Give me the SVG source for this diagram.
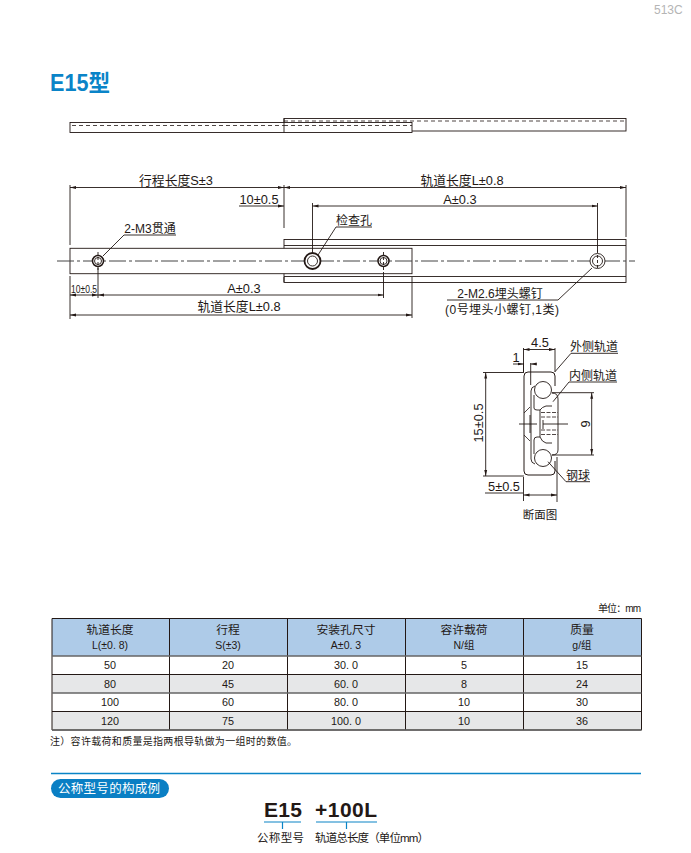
<svg xmlns="http://www.w3.org/2000/svg" width="691" height="853" viewBox="0 0 691 853">
<style>
text{font-family:"Liberation Sans","Noto Sans CJK SC",sans-serif;fill:#231815}
.d{font-size:12.800px;text-anchor:middle}
.k{font-size:12px;text-anchor:middle}
.t{font-size:10.800px;text-anchor:middle}
.h{font-size:11.800px;text-anchor:middle}
.u{font-size:10.500px;text-anchor:middle}
.l{fill:none;stroke:#231815;stroke-width:.9}
.f{fill:#fff;stroke:#231815;stroke-width:.9}
.dash{fill:none;stroke:#231815;stroke-width:.8;stroke-dasharray:4 3}
.c{fill:none;stroke:#444;stroke-width:1;stroke-dasharray:17 3 3 3}
.b{stroke:#231815;stroke-width:1;fill:none}
</style>
<defs>
<marker id="a" markerWidth="6" markerHeight="4" refX="6" refY="2" orient="auto-start-reverse" markerUnits="userSpaceOnUse"><path d="M0 .6L6 2L0 3.4Z" fill="#231815"/></marker>
</defs>
<rect width="691" height="853" fill="#fff"/>
<text x="654" y="14" style="font-size:12px;fill:#b5b5b5">513C</text>
<text x="50" y="91" style="font-size:23px;font-weight:bold;fill:#0a84c8" textLength="60" lengthAdjust="spacingAndGlyphs">E15型</text>

<g id="side-view">
<rect class="f" x="284" y="118.500" width="342" height="12.500"/>
<rect class="f" x="70" y="122.500" width="342" height="10"/>
<path class="dash" d="M72 125.500H284M284 121H626M284 125.500H412"/>
<path class="l" d="M284 118.500V132.500"/>
</g>

<g id="plan-view">
<rect class="f" x="284" y="239.500" width="342" height="43"/>
<path class="l" d="M284 245.500H626M284 276.500H626"/>
<rect class="f" x="70" y="248.300" width="342" height="25.400"/>
<path class="c" d="M57 261H635"/>
</g>

<g id="holes">
<g id="hole-1"><circle class="f" cx="98" cy="261" r="5.500" style="stroke-width:1.500"/><circle class="l" cx="98" cy="261" r="3.500"/><path class="l" d="M98 252V270" stroke-dasharray="3 2"/></g>
<g id="hole-2"><circle class="f" cx="312.500" cy="261" r="8" style="stroke-width:1.800"/><circle class="l" cx="312.500" cy="261" r="5"/></g>
<g id="hole-3"><circle class="f" cx="383.500" cy="261" r="5.500" style="stroke-width:1.500"/><circle class="l" cx="383.500" cy="261" r="3.500"/><path class="l" d="M383.500 252V270" stroke-dasharray="3 2"/></g>
<g id="hole-4"><circle class="f" cx="597.500" cy="261" r="7.500"/><circle class="l" cx="597.500" cy="261" r="5"/><path class="l" d="M597.500 250V270" stroke-dasharray="3 2"/></g>
</g>

<g id="connectors">
<path class="l" d="M70 185V245M284 185V228M626 185V237M312.500 203V254M597.500 203V252M70 276V319M98 268V298M383.500 272V298M412 277V318M284 277V282"/>
<path class="l" marker-start="url(#a)" marker-end="url(#a)" d="M70 187.500H284"/>
<path class="l" marker-start="url(#a)" marker-end="url(#a)" d="M284 187.500H626"/>
<path class="l" marker-end="url(#a)" d="M239 206H284"/>
<path class="l" marker-start="url(#a)" marker-end="url(#a)" d="M312.500 206H597.500"/>
<path class="l" marker-start="url(#a)" marker-end="url(#a)" d="M70 295H98"/>
<path class="l" marker-start="url(#a)" marker-end="url(#a)" d="M98 295H383.500"/>
<path class="l" marker-start="url(#a)" marker-end="url(#a)" d="M70 315H412"/>
<path class="l" d="M176 235H124L103 256M372 227H336L318 255M447 300H558L592 268"/>
</g>

<g id="plan-labels">
<text class="d" x="176" y="185">行程长度S±3</text>
<text class="d" x="462" y="185">轨道长度L±0.8</text>
<text class="d" x="259" y="204">10±0.5</text>
<text class="d" x="460" y="204">A±0.3</text>
<text class="k" x="150" y="233">2-M3贯通</text>
<text class="k" x="354" y="225">检查孔</text>
<text x="71" y="293" style="font-size:11px" textLength="26" lengthAdjust="spacingAndGlyphs">10±0.5</text>
<text class="d" x="244" y="293">A±0.3</text>
<text class="d" x="239" y="311">轨道长度L±0.8</text>
<text class="k" x="500" y="298">2-M2.6埋头螺钉</text>
<text class="k" x="502" y="314" textLength="114">(0号埋头小螺钉,1类)</text>
</g>

<g id="section">
<path class="l" style="stroke-width:1" d="M555 386V376Q555 372 551 372H528Q524 372 524 376V471Q524 475 528 475H551Q555 475 555 471V461"/>
<path class="l" d="M535 386Q531 387 531 391V459Q531 463 535 464"/>
<path class="l" d="M534 395V408Q534 410 537 410H540V437H537Q534 437 534 440V454"/>
<path class="l" d="M552 393Q558 393 558 399V450Q558 455 552 455M540 410Q542 407 546 406H552M540 437Q542 442 546 443H552"/>
<path class="l" style="stroke-width:.8" d="M524 413L530 407M524 435L530 441"/>
<circle class="f" cx="543" cy="390" r="8.500"/>
<circle class="f" cx="543" cy="458" r="8.500"/>
<path class="dash" style="stroke-dasharray:4 1.500" d="M541 412.500H558M541 417H558M541 430H558M541 434.500H558"/>
<path class="l" d="M519 424H537M543 424H568M530 415V433M543 420V429"/>
<path class="l" d="M483 372.500H524M483 476H524" stroke-width=".7"/>
<path class="l" marker-start="url(#a)" marker-end="url(#a)" d="M485.700 372.500V476"/>
<path class="l" d="M523.500 348V372M555 348V372"/>
<path class="l" marker-start="url(#a)" marker-end="url(#a)" d="M523.500 349.500H555"/>
<path class="l" marker-end="url(#a)" d="M513 364H523.500"/>
<path class="l" marker-start="url(#a)" d="M530.700 364H537"/>
<path class="l" d="M530.700 363V385M523.500 363V372"/>
<path class="l" d="M552 392.700H594M552 455H594"/>
<path class="l" marker-start="url(#a)" marker-end="url(#a)" d="M591.700 392.700V455"/>
<path class="l" d="M523.500 477V501M557 457V502M485 493H523"/>
<path class="l" marker-start="url(#a)" marker-end="url(#a)" d="M523.500 495H557"/>
<path class="l" d="M555 371.700L571 353.300H618M553 401.700L569 382H617M548 461.700L566 481.700H590"/>
<text class="d" x="540" y="347">4.5</text>
<text class="d" x="516" y="362">1</text>
<text class="k" x="594" y="351">外侧轨道</text>
<text class="k" x="593" y="380">内侧轨道</text>
<text class="d" transform="translate(483 423) rotate(-90)">15±0.5</text>
<text class="d" transform="translate(590 424) rotate(-90)">9</text>
<text class="k" x="578" y="480">钢球</text>
<text class="d" x="504" y="491">5±0.5</text>
<text x="540" y="519" style="font-size:11.500px;text-anchor:middle">断面图</text>
</g>

<g id="table">
<text x="598" y="612" style="font-size:10px" textLength="43">单位：mm</text>
<rect x="52" y="618.500" width="589.500" height="37.500" fill="#aecbe8"/>
<rect x="52" y="674.500" width="589.500" height="18.500" fill="#e6e7e8"/>
<rect x="52" y="711.500" width="589.500" height="18.500" fill="#e6e7e8"/>
<path class="b" d="M52 618.500H641.500V730H52ZM169.500 618.500V730M287.500 618.500V730M405.500 618.500V730M523.500 618.500V730M52 674.500H641.500M52 711.500H641.500"/>
<path stroke="#666" stroke-width="1.500" fill="none" d="M52 656H641.500M52 693H641.500M52 730H641.500"/>
<text class="h" x="110" y="634">轨道长度</text><text class="u" x="110" y="649">L(±0. 8)</text>
<text class="h" x="228" y="634">行程</text><text class="u" x="228" y="649">S(±3)</text>
<text class="h" x="346" y="634">安装孔尺寸</text><text class="u" x="346" y="649">A±0. 3</text>
<text class="h" x="464" y="634">容许载荷</text><text class="u" x="464" y="649">N/组</text>
<text class="h" x="582" y="634">质量</text><text class="u" x="582" y="649">g/组</text>
<text class="t" x="110" y="669">50</text><text class="t" x="228" y="669">20</text><text class="t" x="346" y="669">30. 0</text><text class="t" x="464" y="669">5</text><text class="t" x="582" y="669">15</text>
<text class="t" x="110" y="688">80</text><text class="t" x="228" y="688">45</text><text class="t" x="346" y="688">60. 0</text><text class="t" x="464" y="688">8</text><text class="t" x="582" y="688">24</text>
<text class="t" x="110" y="706">100</text><text class="t" x="228" y="706">60</text><text class="t" x="346" y="706">80. 0</text><text class="t" x="464" y="706">10</text><text class="t" x="582" y="706">30</text>
<text class="t" x="110" y="725">120</text><text class="t" x="228" y="725">75</text><text class="t" x="346" y="725">100. 0</text><text class="t" x="464" y="725">10</text><text class="t" x="582" y="725">36</text>
<text x="50" y="745" style="font-size:10px" textLength="247">注）容许载荷和质量是指两根导轨做为一组时的数值。</text>
</g>

<g id="designation">
<path d="M51 773.500H641" stroke="#0a84c6" stroke-width="1.500" fill="none"/>
<rect x="51" y="779" width="118" height="19" rx="9.500" fill="#0a7fc4"/>
<text x="58" y="793" style="font-size:12.500px;fill:#fff" textLength="102">公称型号的构成例</text>
<text x="264" y="817" style="font-size:21px;font-weight:bold" textLength="38">E15</text>
<text x="315" y="817" style="font-size:21px;font-weight:bold" textLength="62">+100L</text>
<path d="M264 822H301M316 822H377M282.500 822V829M346.500 822V829" stroke="#0a84c6" stroke-width="1.200" fill="none"/>
<text x="257" y="842" style="font-size:11.500px" textLength="47">公称型号</text>
<text x="315" y="842" style="font-size:11.500px" textLength="114">轨道总长度（单位mm）</text>
</g>
</svg>
